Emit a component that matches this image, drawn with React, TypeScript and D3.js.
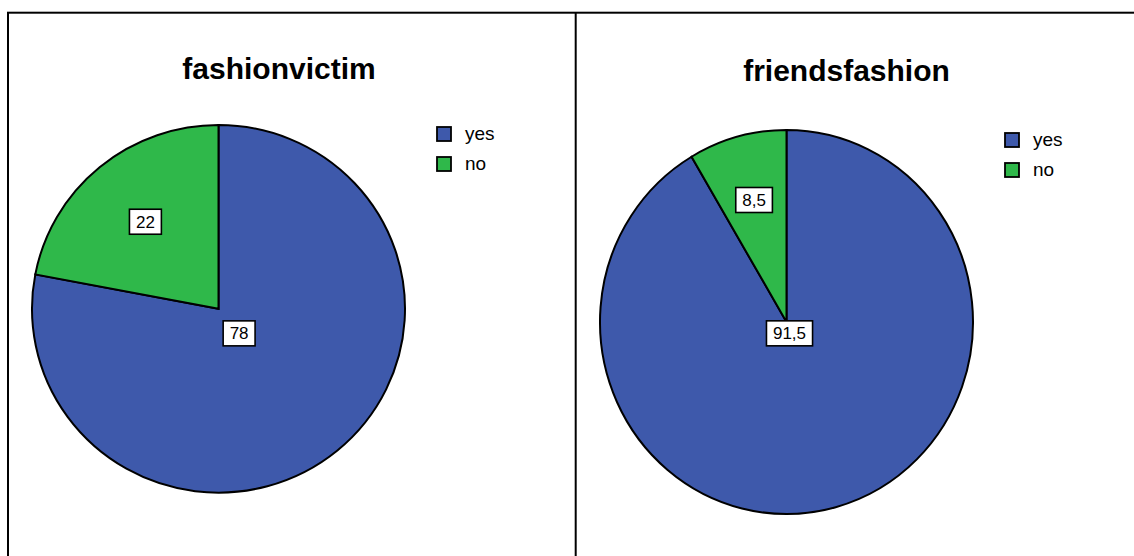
import React, { useEffect, useRef } from "react";
import * as d3 from "d3";

const categories = ["yes", "no"];
const colors = ["#3e59ab", "#2fb84a"];
const chartTitles = ["fashionvictim", "friendsfashion"];
const fashionvictimValues = [78, 22];
const friendsfashionValues = [91.5, 8.5];

const W = 1134;
const H = 556;

type PanelCfg = {
  title: string;
  values: number[];
  cx: number;
  cy: number;
  rx: number;
  ry: number;
  titleX: number;
  titleY: number;
  legendX: number;
  legendY: number;
};

const panels: PanelCfg[] = [
  { title: chartTitles[0], values: fashionvictimValues, cx: 218.5, cy: 308.8, rx: 186.5, ry: 183.8, titleX: 279, titleY: 79, legendX: 437, legendY: 127 },
  { title: chartTitles[1], values: friendsfashionValues, cx: 786.5, cy: 322, rx: 186.5, ry: 192, titleX: 846.5, titleY: 81, legendX: 1005, legendY: 133 },
];

const fmt = (v: number) => String(v).replace(".", ",");

export default function App() {
  const ref = useRef<SVGSVGElement | null>(null);
  useEffect(() => {
    const svg = d3.select(ref.current);
    svg.selectAll("*").remove();
    svg.append("rect").attr("x", 0).attr("y", 0).attr("width", W).attr("height", H).attr("fill", "#fff");
    // frame
    svg.append("rect").attr("x", 8).attr("y", 12.7).attr("width", W + 10).attr("height", H + 10)
      .attr("fill", "none").attr("stroke", "#000").attr("stroke-width", 2);
    svg.append("line").attr("x1", 575.7).attr("x2", 575.7).attr("y1", 12.7).attr("y2", H)
      .attr("stroke", "#000").attr("stroke-width", 2);

    const pie = d3.pie<number>().sort(null).value((d) => d).startAngle(0).endAngle(2 * Math.PI);

    panels.forEach((p) => {
      const g = svg.append("g");
      g.append("text").attr("x", p.titleX).attr("y", p.titleY).attr("text-anchor", "middle")
        .attr("font-family", "Liberation Sans, Arial, sans-serif").attr("font-weight", "bold")
        .attr("font-size", 30).attr("fill", "#000").text(p.title);

      const arcs = pie(p.values);
      const arc = d3.arc<d3.PieArcDatum<number>>().innerRadius(0).outerRadius(p.rx);
      const pg = g.append("g").attr("transform", `translate(${p.cx},${p.cy}) scale(1,${p.ry / p.rx})`);
      pg.selectAll("path").data(arcs).enter().append("path")
        .attr("d", (d) => arc(d) as string)
        .attr("fill", (_d, i) => colors[i])
        .attr("stroke", "#000").attr("stroke-width", 2).attr("stroke-linejoin", "miter")
        .attr("vector-effect", "non-scaling-stroke");

      // labels at sector centroid
      arcs.forEach((a) => {
        const alpha = a.endAngle - a.startAngle;
        const mid = (a.startAngle + a.endAngle) / 2;
        const dist = (4 * p.rx * Math.sin(alpha / 2)) / (3 * alpha);
        const lx = p.cx + dist * Math.sin(mid);
        const ly = p.cy - dist * Math.cos(mid) * (p.ry / p.rx);
        const lg = g.append("g");
        const t = lg.append("text").attr("x", lx).attr("y", ly + 6).attr("text-anchor", "middle")
          .attr("font-family", "Liberation Sans, Arial, sans-serif").attr("font-size", 17).attr("fill", "#000")
          .text(fmt(a.data));
        const tw = (t.node() as SVGTextElement).getComputedTextLength();
        const bw = tw + 13;
        const bh = 25;
        lg.insert("rect", "text").attr("x", lx - bw / 2).attr("y", ly - bh / 2).attr("width", bw).attr("height", bh)
          .attr("fill", "#fff").attr("stroke", "#000").attr("stroke-width", 1.6);
      });

      // legend
      categories.forEach((c, i) => {
        const y = p.legendY + i * 30;
        g.append("rect").attr("x", p.legendX).attr("y", y).attr("width", 14).attr("height", 14)
          .attr("fill", colors[i]).attr("stroke", "#000").attr("stroke-width", 1.8);
        g.append("text").attr("x", p.legendX + 28).attr("y", y + 13).attr("font-family", "Liberation Sans, Arial, sans-serif")
          .attr("font-size", 19).attr("fill", "#000").text(c);
      });
    });
  }, []);
  return (
    <svg ref={ref} width={W} height={H} style={{ position: "absolute", left: 0, top: 0, display: "block" }} />
  );
}
